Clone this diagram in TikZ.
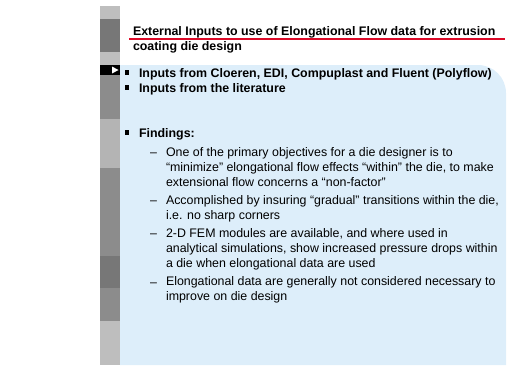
\documentclass[tikz,border=0pt]{standalone}
\usepackage{fontspec}
\setmainfont{Liberation Sans}

\definecolor{barlight}{HTML}{BEBEBE}
\definecolor{barpale}{HTML}{B4B4B4}
\definecolor{barmid}{HTML}{8C8C8C}
\definecolor{bardark}{HTML}{777777}
\definecolor{panelblue}{HTML}{DDEEFA}
\definecolor{rulered}{HTML}{DC0A28}

\tikzset{
  slidetext/.style={inner sep=0pt, outer sep=0pt, anchor=base west, align=left,
    font=\fontsize{12.4}{15}\selectfont},
  headtext/.style={slidetext, font=\fontsize{12.4}{15}\selectfont\bfseries},
  bulletsq/.style={fill=black, inner sep=0pt, minimum size=4.5pt},
  dashmark/.style={slidetext}
}

\begin{document}
\begin{tikzpicture}[x=1pt,y=-1pt]
   \useasboundingbox (0,0) rectangle (507,365);

   % side bar, top to bottom
   \foreach \top/\bot/\shade in {6/19/barlight, 19/52/bardark, 52/65/barlight,
       65/75/black, 75/119/barmid, 119/168/barpale, 168/256/barmid,
       256/288/bardark, 288/321/barmid, 321/365/barlight} {
     \fill[\shade] (100,\top) rectangle (120,\bot);
   }
   \fill[white] (112,66.5) -- (118.5,70) -- (112,73.5) -- cycle;

   % text panel
   \fill[panelblue] (120,365) -- (120,65) -- (478,65)
     arc[start angle=90, end angle=0, radius=28pt] -- (506,365) -- cycle;

   % title (multi-line nodes sit on their last baseline)
   \node[headtext] (title) at (133,50)
     {External Inputs to use of Elongational Flow data for extrusion\\coating die design};
   \draw[rulered, line width=1.3pt] (129,39) -- (505,39);

   % first level
   \node[bulletsq] (b1) at (127,72.5) {};
   \node[headtext] (inputs) at (139,77) {Inputs from Cloeren, EDI, Compuplast and Fluent (Polyflow)};
   \node[bulletsq] (b2) at (127,87.5) {};
   \node[headtext] (lit) at (139,92) {Inputs from the literature};
   \node[bulletsq] (b3) at (127,132.5) {};
   \node[headtext] (findings) at (139,137) {Findings:};

   % second level
   \node[dashmark] (d1) at (150,156) {–};
   \node[slidetext] (f1) at (166,186)
     {One of the primary objectives for a die designer is to\\
      “minimize” elongational flow effects “within” the die, to make\\
      extensional flow concerns a “non-factor”};
   \node[dashmark] (d2) at (150,204) {–};
   \node[slidetext] (f2) at (166,219)
     {Accomplished by insuring “gradual” transitions within the die,\\
      i.e. no sharp corners};
   \node[dashmark] (d3) at (150,237) {–};
   \node[slidetext] (f3) at (166,267)
     {2-D FEM modules are available, and where used in\\
      analytical simulations, show increased pressure drops within\\
      a die when elongational data are used};
   \node[dashmark] (d4) at (150,286) {–};
   \node[slidetext] (f4) at (166,300)
     {Elongational data are generally not considered necessary to\\
      improve on die design};
\end{tikzpicture}
\end{document}
